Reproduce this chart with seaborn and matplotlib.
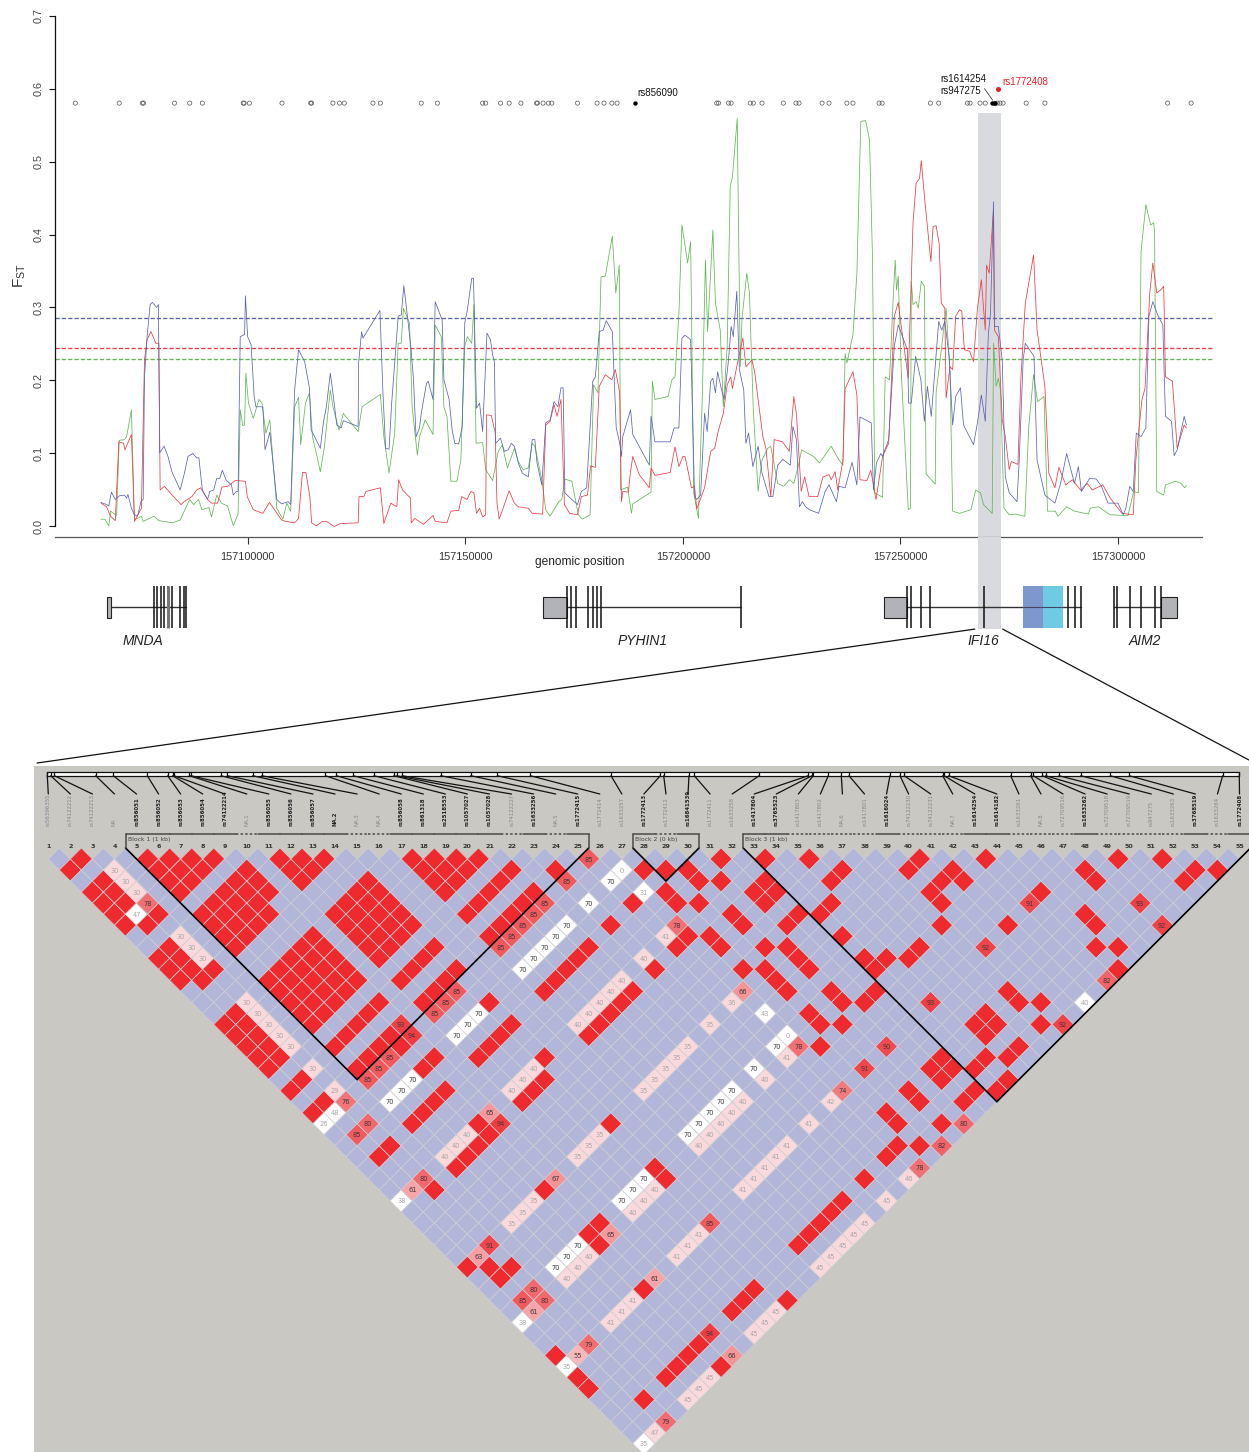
import matplotlib
matplotlib.use("Agg")
import matplotlib.pyplot as plt
from matplotlib.colors import ListedColormap
from matplotlib.patches import ConnectionPatch, Rectangle
import numpy as np
import seaborn as sns

sns.set_theme(style="white")
plt.rcParams["font.family"] = ["Liberation Sans", "DejaVu Sans"]
plt.rcParams["mathtext.fontset"] = "custom"
plt.rcParams["mathtext.rm"] = "Liberation Sans"

# ---- FST traces: positions in kb above 157,000,000 ----
blue_kb = [66.3,67.6,68.1,68.7,69.6,70.5,71.7,72.2,72.5,73.3,74.0,74.7,75.5,76.0,76.3,76.9,77.6,78.1,79.1,79.5,79.8,80.8,81.7,82.6,84.5,85.4,86.3,87.4,88.3,88.8,89.6,90.8,91.3,92.2,92.9,93.6,94.2,95.1,96.3,96.7,97.4,97.8,98.3,99.3,99.5,100,100.8,101.5,101.9,103.5,104,105.1,106.7,107.8,109.3,109.9,110.8,111.7,113.1,114.2,114.6,115.4,116.7,117.4,118.1,119,119.6,120.5,121.5,122,125.4,125.5,126.2,126.5,130.4,131.1,131.7,132.5,133.1,133.8,134.6,135.3,135.9,137.5,138.1,138.7,139.5,139.9,141.1,141.5,142.6,143.1,144.7,145.1,146.3,147,147.6,148.5,149.3,149.9,150.5,151.5,151.9,152.6,153.3,154,155,155.8,156.3,156.7,157,158.1,159,159.9,160.6,161.3,162.2,163.1,164.5,165.4,166,166.5,167.6,168.5,169.5,170.4,171.3,172,172.5,172.9,174.5,175.8,176.7,177.9,179.3,179.9,180.8,181.7,182.4,183.8,184.7,185.5,
           185.9,186.2,188,188.5,192.3,192.7,193.6,197.1,198,199.1,199.8,200.5,201.8,202.7,203.2,204.1,205,205.6,206.4,206.9,207.5,208,208.9,209.5,210.5,211.1,211.6,212.4,213,214,214.5,215.1,216.1,217.3,218.2,219.8,220.7,221.8,223,224.7,225.3,226.1,226.8,227.5,228.2,229.1,231.2,232.7,233.6,235.3,235.9,237.3,238.9,240,240.7,243.3,243.8,244.5,245.5,245.9,247.3,248.6,249.5,251.6,251.9,252.5,253.5,254.7,255.5,256.2,257.1,258.8,259.5,260.2,261.2,262,262.7,263.8,264.5,265.6,266.8,267.7,268.6,269.5,270.2,270.7,271.4,271.6,272.5,273.4,274.1,275,276.8,277.3,278.2,278.7,280.7,281.4,283.2,285.5,286.8,288.2,290,290.9,291.6,293.5,295,296.2,297.7,300,301.2,301.8,302.7,303.5,304.2,305.3,306.4,307.1,308,309.1,310.3,310.9,312.3,312.9,313.6,315.2,315.7]
blue_fst = [.033,.030,.028,.047,.037,.042,.043,.039,.044,.025,.016,.014,.034,.037,.205,.260,.304,.307,.300,.304,.101,.110,.096,.075,.050,.071,.096,.100,.094,.094,.050,.037,.048,.050,.066,.066,.077,.063,.057,.043,.048,.048,.260,.263,.316,.260,.249,.178,.164,.164,.105,.129,.037,.031,.034,.030,.187,.242,.226,.190,.132,.123,.107,.142,.164,.210,.183,.139,.135,.145,.137,.224,.267,.258,.296,.183,.107,.106,.169,.224,.288,.290,.330,.247,.203,.123,.135,.155,.196,.199,.174,.308,.283,.201,.174,.132,.114,.113,.137,.279,.297,.340,.340,.162,.169,.130,.265,.256,.235,.226,.114,.121,.103,.105,.114,.110,.087,.073,.068,.119,.119,.087,.057,.142,.146,.171,.164,.190,.190,.046,.037,.030,.048,.053,.199,.205,.267,.269,.282,.267,.135,.114,
            .096,.123,.160,.126,.084,.151,.116,.116,.135,.135,.258,.262,.256,.041,.037,.043,.155,.130,.199,.203,.183,.212,.187,.174,.228,.274,.260,.322,.215,.187,.114,.128,.082,.110,.073,.041,.041,.084,.092,.084,.137,.119,.027,.034,.027,.023,.018,.048,.057,.034,.055,.053,.088,.057,.150,.142,.050,.087,.100,.096,.119,.247,.276,.242,.169,.169,.233,.201,.144,.192,.151,.281,.269,.281,.233,.139,.178,.190,.139,.126,.112,.142,.180,.144,.263,.292,.445,.274,.274,.228,.068,.046,.034,.091,.228,.251,.233,.091,.043,.032,.059,.100,.059,.082,.048,.066,.065,.055,.032,.032,.016,.025,.055,.048,.128,.123,.135,.288,.308,.290,.276,.151,.144,.097,.105,.151,.139]

red_kb = [66.3,67.6,68.5,69.6,70.4,71.5,71.8,73.3,74,75.6,76.3,76.9,77.8,78.9,79.6,79.9,80.9,82.2,84.7,85.4,87.2,88.3,89.2,90.8,91.7,93.1,94.1,95.4,97.2,99.5,99.9,101.3,103.5,105,107.8,108.7,110.8,111.7,112.6,113.4,114.3,114.7,115.8,117.2,118.1,119.9,121.3,125.4,125.6,126.7,127.2,130.5,131.3,132.9,134.3,134.7,135.6,137.4,137.6,138.4,140.4,142.6,143.1,145.8,146.7,148.5,149.2,150.4,151.3,152,152.6,153.3,154,154.7,154.9,156,156.9,157.3,157.8,158.7,160.1,161.3,162.2,164.5,165.4,167.8,168.5,169.5,170.4,171.1,172,172.8,174,175.8,176.7,178.1,178.8,179.9,180.8,182.2,183.7,184.5,185.5,
          185.9,186.2,187.5,187.9,188.5,190,192.3,192.7,193.6,197.1,198.2,199.1,200,200.5,202,202.7,203.2,205,206.4,207.3,208.2,209.3,210.2,211,211.4,212.7,213.8,214.5,215.9,216.5,217.3,218.4,219.1,220.2,221,222.9,224.5,225.5,226.1,227.2,228,229,231,232.2,233.6,234.1,235,235.6,236.8,237.3,239.1,240,240.7,242.3,243.2,244.4,245.9,247.3,248.6,249.5,250.2,251.8,252.9,253.6,254.4,254.8,255.6,257,257.5,258.2,258.9,259.4,260.2,260.5,261.4,262,262.7,263.6,264.1,264.7,265.9,266.8,267.7,268.6,269.5,269.8,270.4,271.4,271.6,272.5,273.4,274.1,275,275.5,277,277.7,278.7,280.6,281.4,283.2,284.1,285.5,286.4,288,289.5,291.4,292.9,294.1,296.5,298.2,300.9,303.5,304.1,305.5,306.2,307.3,308,308.9,309.8,310.5,310.9,312.5,313.6,315.2,315.7]
red_fst = [.032,.027,.014,.008,.116,.114,.105,.126,.007,.025,.228,.256,.267,.251,.251,.050,.055,.046,.030,.034,.041,.050,.053,.037,.032,.032,.054,.055,.063,.062,.041,.023,.018,.033,.009,.007,.005,.011,.074,.074,.041,.005,.001,.007,.007,.000,.004,.005,.041,.041,.048,.053,.004,.032,.027,.064,.050,.039,.005,.011,.003,.015,.007,.005,.021,.022,.041,.037,.048,.046,.018,.025,.013,.016,.153,.152,.128,.032,.010,.025,.049,.032,.027,.025,.018,.017,.139,.144,.167,.151,.174,.030,.018,.016,.041,.043,.083,.081,.192,.208,.201,.215,.183,
           .034,.048,.047,.071,.096,.071,.053,.080,.070,.074,.109,.082,.096,.096,.053,.055,.024,.053,.103,.107,.132,.155,.194,.205,.189,.228,.258,.219,.228,.212,.174,.123,.107,.041,.119,.116,.103,.178,.155,.048,.068,.041,.041,.068,.071,.064,.075,.050,.091,.189,.212,.180,.064,.063,.077,.037,.096,.114,.288,.307,.274,.203,.416,.470,.477,.501,.447,.363,.411,.412,.388,.306,.299,.176,.219,.215,.288,.297,.295,.242,.240,.226,.299,.338,.269,.358,.347,.436,.269,.260,.146,.123,.078,.089,.085,.205,.306,.372,.269,.192,.073,.053,.081,.057,.064,.050,.059,.050,.057,.039,.018,.016,.091,.174,.189,.320,.361,.320,.324,.329,.205,.199,.107,.139,.135]

green_kb = [66.3,67.2,68.1,68.5,69.9,70.5,71.7,72.2,73.3,74,75.6,76,78.5,79.6,82.8,84.5,86.7,87.6,88.7,89.5,91.1,91.7,92.9,94,95.4,96.7,97.8,98.3,98.9,99.3,99.6,100.2,101.3,102.6,103.3,104.2,105.1,106.7,108.1,109,109.9,110.8,111.7,112.2,113.3,114.2,114.9,115.8,116.7,117.6,119,119.6,121,122,125.4,126.3,130.5,131.3,132.5,133.8,134.6,135.3,135.8,137.2,137.8,139,139.5,140.8,142.6,143.1,144.5,145.1,145.8,146.7,148.1,149,149.9,150.5,151.5,152,152.5,154,154.7,156.3,157.6,158.5,159.7,161.3,162.2,163.3,164.5,165.4,166,167.6,168.5,169.5,171.5,172.2,172.9,174.5,176,176.9,178.7,179.5,180.5,181.2,182.2,183.8,184.6,185.4,
            185.5,185.7,187.3,188.2,188.5,192.7,193,193.6,196.6,197.5,198.2,199.1,199.8,201.1,201.8,202.5,203.6,204.5,205.2,205.7,206.9,207.5,208.6,209.3,210.2,210.9,211.4,212.5,213.2,213.6,214.7,215.3,216.2,217.3,218.2,219.5,220.2,221.8,223.2,224.5,225.5,226.5,227.3,230,231.4,234.1,235.9,236.8,237.3,237.7,239.1,240,240.9,242,242.9,243.6,244.1,245.9,246.5,247.5,248.4,248.8,249.1,249.5,250.2,251.4,251.8,252.3,252.5,252.9,253.6,254.1,254.8,255.5,255.9,258,258.2,259.5,260.5,261.4,262,263.6,266.2,267.3,268.4,269.1,271.1,271.4,272,272.5,273,273.8,275,276.4,278.6,279.5,280.6,281.5,283,283.8,285.6,286.2,288.2,290,293.2,293.6,295.5,298.2,302.3,303.6,304.7,305.3,306.4,307.5,308.2,308.4,308.9,310.5,310.9,313.2,314.5,315.3,315.7]
green_fst = [.010,.010,.001,.021,.015,.118,.119,.123,.160,.009,.014,.007,.014,.008,.005,.009,.037,.030,.037,.023,.026,.013,.043,.032,.028,.001,.017,.160,.138,.139,.210,.169,.148,.174,.169,.128,.146,.025,.010,.032,.021,.164,.177,.112,.169,.183,.123,.100,.075,.107,.187,.164,.132,.155,.130,.164,.181,.123,.073,.128,.251,.251,.299,.279,.164,.098,.123,.146,.126,.276,.260,.164,.151,.062,.062,.091,.247,.260,.251,.304,.114,.115,.078,.063,.103,.112,.080,.107,.089,.078,.080,.114,.110,.064,.023,.014,.034,.037,.065,.062,.016,.010,.016,.194,.183,.342,.343,.398,.320,.358,
             .283,.050,.054,.018,.031,.047,.199,.174,.178,.201,.205,.292,.413,.361,.390,.046,.011,.183,.365,.267,.406,.306,.269,.164,.247,.466,.479,.559,.219,.285,.347,.320,.160,.048,.091,.107,.110,.059,.055,.064,.059,.082,.105,.096,.087,.110,.091,.084,.237,.224,.263,.347,.555,.556,.530,.365,.046,.040,.205,.201,.320,.365,.324,.343,.212,.068,.023,.025,.336,.304,.308,.299,.336,.329,.072,.058,.183,.247,.299,.210,.021,.018,.023,.050,.046,.030,.018,.251,.192,.203,.187,.025,.016,.017,.014,.137,.208,.171,.178,.021,.021,.014,.027,.021,.017,.025,.027,.016,.015,.048,.046,.377,.441,.413,.416,.402,.048,.043,.057,.062,.059,.053,.056]

threshold_blue, threshold_red, threshold_green = 0.286, 0.245, 0.23
snp_open_kb = [60.4,70.5,75.8,76.1,83.2,86.7,89.6,99.0,99.2,100.4,107.9,114.5,114.7,119.6,121.1,122.2,128.8,130.5,139.9,143.6,154.0,154.7,158.1,160.1,162.8,166.4,166.6,167.9,169.1,169.9,175.8,180.3,181.9,183.7,184.9,207.8,208.2,210.5,211.1,215.5,216.2,218.2,223.1,226.0,226.7,232.0,233.6,237.7,239.1,245.1,245.8,256.9,258.8,265.4,266.0,268.3,269.5,272.3,272.9,273.6,278.9,283.2,311.4,316.8]
snp_black_kb = [188.9,271.1,271.5,271.8]
snp_level = 0.58
snp_red_kb, snp_red_fst = [272.4], [0.60]
x_ticks_kb = [100,150,200,250,300]
y_ticks = [0,.1,.2,.3,.4,.5,.6,.7]
region_kb = (267.8, 273.1)

# ---- gene models (kb) ----
genes = ["MNDA","PYHIN1","IFI16","AIM2"]
gene_label_kb = [76,190.8,269,306.2]
gene_span = [(67.7,85.9),(167.9,213.3),(246.2,291.6),(299,313.5)]
gene_utr = [(67.7,68.6),(167.9,173.4),(246.2,251.4),(309.9,313.5)]
gene_exons = [[78.5,79.2,80,80.8,81.8,82.6,84.5,85.4,85.9],
              [173.4,174.4,175.4,178.3,179.3,180.3,181.3,213.3],
              [251.4,252.4,254.8,256.8,269.1,288.6,290.1,291.6],
              [299,299.8,302.8,305.3,308.5,309.9]]
domain_blue, domain_cyan = (278.2,282.7), (282.7,287.3)

# ---- LD map ----
snp_names = ["rs56396355","rs74122212","rs74122213","NA","rs856051","rs856052","rs856053","rs856054","rs74122214","NA.1","rs856055","rs856056","rs856057","NA.2","NA.3","NA.4","rs856058","rs861318","rs2518553","rs1057027","rs1057028","rs74122227","rs1633256","NA.5","rs1772415","rs1772414","rs1633257","rs1772413","rs1772412","rs16841539","rs1772411","rs1633258","rs1417804","rs3765523","rs1417803","rs1417802","NA.6","rs1417801","rs1616024","rs74122230","rs74122231","NA.7","rs1614254","rs1614182","rs1633261","NA.8","rs72709516","rs1633262","rs72709518","rs72709519","rs947275","rs1633263","rs3768519","rs1633264","rs1772408"]
tag_snps = [5,6,7,8,9,11,12,13,14,17,18,19,20,21,23,25,28,30,33,34,39,43,44,48,53,55]
snp_map = [0,3.4,7,48.4,66,100,120.4,125.4,126.7,142,143.7,173.7,180,205.4,214.4,278,289,306,326.7,346.4,349.4,354.7,393.4,423.4,450,483,563.7,613,616.4,641.7,647,712,761,764.7,766,781,794,801.7,842.7,852.7,857,895.4,896.7,901.4,963.4,983.4,986,995,998.4,1011.7,1033.4,1063,1082,1175.4,1192]
blocks = [("Block 1 (1 kb)",5,25),("Block 2 (0 kb)",28,30),("Block 3 (1 kb)",33,55)]

red_triangles = [(5,9),(11,14),(17,21)]
red_rects = [(1,2,5,7),(1,1,8,8),(2,3,9,9),(5,8,11,14),(9,9,11,13),(11,14,17,21),(5,9,17,21),(1,2,11,13),(2,3,14,14),(1,2,17,21),(1,2,23,23),(1,2,25,25),(11,14,23,23),(5,9,23,23),(17,21,23,23),(5,8,25,25),(11,14,25,25),(17,21,25,25),(8,8,26,26),(8,9,28,28),(14,14,28,28),(5,8,30,30),(11,14,30,30),(2,3,30,30),(17,21,30,30),(8,8,33,33),(14,14,33,33),(5,8,34,34),(11,13,34,34),(17,21,34,34),(25,26,34,34)]
red_cells = [(2,3),(1,3),(23,25),(23,30),(25,30),(23,34),(3,34),(27,29),(28,30),(29,31),(29,32),(30,33),(27,31),(27,32),(28,33),(27,35),(27,36),(29,35),(29,36),(31,32),(33,34),(35,36),(36,38),(35,38),(32,35),(31,35),(32,36),(31,36),(34,39),(33,39),(32,38),(31,38),(33,41),(29,38),(30,39),(30,40),(27,38),(28,39),(30,41),(28,40),(28,41),(30,43),(30,44),(31,45),(28,43),(28,44),(29,45),(27,45),(40,41),(43,44),(49,50),(51,52),(39,41),(41,43),(47,49),(52,54),(53,55),(40,43),(41,44),(47,50),(51,54),(39,43),(44,48),(39,44),(45,51),(38,45),(41,48),(45,52),(36,45),(44,53),(45,54),(33,43),(34,44),(35,45),(33,44),(44,55),(32,45),(38,51),(38,52),(39,53),(36,51),(35,51),(36,52),(38,54),(35,52),(36,54),(32,51),(34,53),(35,54),(31,51),(32,52),(33,53),(31,52),(34,55),(29,51),(32,54),(33,55),(29,52),(31,54),(27,51),(27,52),(29,54),(26,53),(25,53),(27,54),(23,53),(21,53),(20,53),(19,53),(18,53),(17,53),(14,55),(11,53),(12,53),(13,53),(5,53),(6,53),(7,53),(8,53),(3,53),(8,55),(8,48),(14,39),(8,39),(8,43),(9,43),(8,44),(14,43),(14,44),(1,39),(2,40),(2,41),(3,41),(1,47),(1,49),(1,50)]
tinted_cells = [(3,8,78),(25,26,85),(23,26,85),(21,26,85),(20,26,85),(19,26,85),(18,26,85),(17,26,85),(13,26,85),(12,26,85),(11,26,85),(9,25,93),(9,26,94),(7,26,85),(6,26,85),(5,26,85),(26,33,78),(26,39,66),(43,48,91),(48,53,93),(48,55,92),(39,48,92),(43,55,82),(34,48,93),(39,55,92),(30,48,90),(28,48,91),(26,48,74),(3,26,76),(3,28,80),(2,28,85),(9,33,65),(9,34,94),(3,33,80),(2,33,61),(9,39,67),(26,44,78),(30,55,80),(28,55,82),(26,55,78),(14,48,85),(3,39,91),(2,39,63),(9,44,65),(9,48,61),(3,43,80),(2,43,85),(3,44,80),(2,44,61),(3,48,79),(2,48,55),(9,53,94),(9,55,66),(3,55,79)]
white_cells = [(2,8,47),(26,28,0),(25,28,70),(23,28,70),(26,30,31),(21,28,70),(20,28,70),(19,28,70),(18,28,70),(17,28,70),(13,28,70),(12,28,70),(11,28,70),(7,28,70),(6,28,70),(5,28,70),(26,41,43),(26,43,0),(25,43,70),(23,43,70),(21,43,70),(20,43,70),(19,43,70),(18,43,70),(17,43,70),(13,43,70),(12,43,70),(11,43,70),(7,43,70),(6,43,70),(5,43,70),(41,55,40),(2,26,48),(1,26,26),(1,33,38),(1,44,38),(1,48,35),(1,55,35)]
pink_cells = [(3,5,30),(3,6,30),(3,7,30),(3,11,30),(3,12,30),(3,13,30),(3,17,30),(3,18,30),(3,19,30),(3,20,30),(3,21,30),(3,23,30),(3,25,29),(25,33,41),(23,33,40),(21,33,40),(20,33,40),(19,33,40),(18,33,40),(17,33,40),(13,33,40),(12,33,40),(11,33,40),(7,33,40),(6,33,40),(5,33,40),(25,39,36),(23,39,35),(21,39,35),(20,39,35),(19,39,35),(18,39,35),(17,39,35),(13,39,35),(12,39,35),(11,39,35),(7,39,35),(6,39,35),(5,39,35),(25,44,41),(23,44,40),(21,44,40),(20,44,40),(19,44,40),(18,44,40),(17,44,40),(13,44,40),(12,44,40),(11,44,40),(7,44,40),(6,44,40),(5,44,40),(25,48,42),(23,48,41),(21,48,41),(20,48,41),(19,48,41),(18,48,41),(17,48,41),(13,48,41),(12,48,41),(11,48,41),(7,48,41),(6,48,41),(5,48,41),(25,55,46),(23,55,45),(21,55,45),(20,55,45),(19,55,45),(18,55,45),(17,55,45),(13,55,45),(12,55,45),(11,55,45),(7,55,45),(6,55,45),(5,55,45),(2,55,47)]

C_BLUE, C_RED, C_GREEN = "#5a64ad", "#ee3a45", "#62b755"
W, H = 1249, 1452
fig = plt.figure(figsize=(W/100, H/100), dpi=100, facecolor="white")
def box(l, t, r, b):
    return [l/W, 1-b/H, (r-l)/W, (b-t)/H]
ORIGIN = 157000000
bp = lambda v: ORIGIN + np.asarray(v)*1000.0

# ---------- FST panel ----------
ax = fig.add_axes(box(55, 15, 1202, 537), facecolor="none")
ax.set_xlim(bp(55.74), bp(319.3))
ax.set_ylim(-0.0144, 0.7007)
ax.fill_between(bp(list(region_kb)), -0.0144, 0.566, color="#d9dadf", lw=0, zorder=0)
for lev, col in [(threshold_blue, C_BLUE), (threshold_red, C_RED), (threshold_green, C_GREEN)]:
    ax.plot(bp([55.74, 322.1]), [lev, lev], color=col, lw=0.95, ls=(0, (3.2, 1.6)), clip_on=False, zorder=2)
for k, v, col in [(green_kb, green_fst, C_GREEN), (red_kb, red_fst, C_RED), (blue_kb, blue_fst, C_BLUE)]:
    sns.lineplot(x=bp(k), y=v, color=col, lw=0.55, estimator=None, sort=False, ax=ax, zorder=3)
sns.scatterplot(x=bp(snp_open_kb), y=[snp_level]*len(snp_open_kb), s=9, marker="o", facecolors="none", edgecolor="#555555", linewidth=0.5, ax=ax, zorder=4)
sns.scatterplot(x=bp(snp_black_kb), y=[snp_level]*len(snp_black_kb), s=10, color="black", linewidth=0, ax=ax, zorder=5)
sns.scatterplot(x=bp(snp_red_kb), y=snp_red_fst, s=13, color="#ee1c25", linewidth=0, ax=ax, zorder=5)
ax.text(bp(189.5), 0.594, "rs856090", fontsize=7, color="#111111", va="center")
ax.text(bp(273.4), 0.6095, "rs1772408", fontsize=7, color="#ee1c25", va="center")
ax.text(bp(259.1), 0.6125, "rs1614254", fontsize=7, color="#111111", va="center")
ax.text(bp(259.1), 0.5965, "rs947275", fontsize=7, color="#111111", va="center")
ax.plot(bp([269.3, 271.2]), [0.600, 0.584], color="#222222", lw=0.5)
for s in ("top", "right"):
    ax.spines[s].set_visible(False)
ax.spines["left"].set_bounds(0, 0.7)
ax.spines["left"].set_color("#111111"); ax.spines["left"].set_linewidth(0.9)
ax.spines["bottom"].set_color("#555555"); ax.spines["bottom"].set_linewidth(0.9)
ax.set_xticks(bp(x_ticks_kb)); ax.set_xticklabels([f"{int(b)}" for b in bp(x_ticks_kb)])
ax.set_yticks(y_ticks); ax.set_yticklabels([f"{t:.1f}" for t in y_ticks], rotation=90, va="center")
ax.tick_params(axis="x", length=5, width=0.8, color="#333333", labelsize=7.8, labelcolor="#333333", pad=5.5, bottom=True)
ax.tick_params(axis="y", length=4.5, width=0.8, color="#111111", labelsize=7.8, labelcolor="#444444", pad=3.5, left=True)
ax.set_xlabel("genomic position", fontsize=8.6, color="#222222")
ax.xaxis.set_label_coords(0.4577, -0.037)
ax.set_ylabel(r"F$_{\mathrm{ST}}$", fontsize=11, color="#333333")
ax.yaxis.set_label_coords(-0.0235, 0.5)

# ---------- gene track ----------
gx = fig.add_axes(box(55, 537, 1202, 660), facecolor="none")
gx.set_xlim(bp(55.74), bp(319.3)); gx.set_ylim(-2.52, 3.33); gx.axis("off")
gx.fill_between(bp(list(region_kb)), -1.05, 3.33, color="#d9dadf", lw=0, zorder=0)
for name, lab, span, utr, exons in zip(genes, gene_label_kb, gene_span, gene_utr, gene_exons):
    gx.plot(bp(span), [0, 0], color="#333333", lw=1.0, zorder=2)
    gx.add_patch(Rectangle((bp(utr[0]), -0.5), (utr[1]-utr[0])*1000, 1.0, fc="#b1b3b8", ec="#222222", lw=0.8, zorder=3))
    gx.vlines(bp(exons), -1, 1, color="#111111", lw=1.1, zorder=4)
    gx.text(bp(lab), -1.62, name, fontsize=10, style="italic", ha="center", va="center", color="#222222")
gx.vlines(bp([81.8]), -1, 1, color="#777777", lw=2.2, zorder=5)
for dom, col in [(domain_blue, "#7e97cc"), (domain_cyan, "#6fcbe3")]:
    gx.add_patch(Rectangle((bp(dom[0]), -1), (dom[1]-dom[0])*1000, 2, fc=col, ec="none", zorder=3))
gx.plot(bp([278.2, 287.3]), [0, 0], color="#444466", lw=0.8, zorder=4)

# ---------- LD triangle ----------
n = len(snp_names)
lx = fig.add_axes(box(34, 766, 1249, 1452), facecolor="#c9c8c3")
lx.set_xlim(0.352, 55.43); lx.set_ylim(54.76, -7.43); lx.axis("off")
lx.add_patch(Rectangle((0.352, -7.43), 55.1, 62.2, fc="#c9c8c3", ec="none", zorder=0))

tint_pal = sns.blend_palette(["#f9d0d3", "#ee2a2f"], 54)
palette = ["#b2b7da", "#ee2a2f", "#ffffff", "#f9d9db"] + [tint_pal[min(v-47, 53)] for v in range(47, 101)]
code = np.zeros((n, n), int)
for a, b in red_triangles:
    for i in range(a, b+1):
        for j in range(i+1, b+1):
            code[i-1, j-1] = 1
for i0, i1, j0, j1 in red_rects:
    code[i0-1:i1, j0-1:j1] = 1
for i, j in red_cells:
    code[i-1, j-1] = 1
for i, j, v in white_cells:
    code[i-1, j-1] = 2
for i, j, v in pink_cells:
    code[i-1, j-1] = 3
for i, j, v in tinted_cells:
    code[i-1, j-1] = 4 + (v-47)
nodes = np.arange(0.5, n+1)
NI, NJ = np.meshgrid(nodes, nodes, indexing="ij")
mask = np.tril(np.ones((n, n), bool))
lx.pcolor((NI+NJ)/2, NJ-NI, np.ma.array(code, mask=mask), cmap=ListedColormap(palette),
          vmin=-0.5, vmax=len(palette)-0.5, edgecolors="#cfcfd4", linewidth=0.5, zorder=1)
for cells in (white_cells, pink_cells, tinted_cells):
    for i, j, v in cells:
        col = "#3a3a3a" if (v >= 50 or v == 70) else "#a9a6a6"
        lx.text((i+j)/2, j-i+0.05, str(v), fontsize=4.8, ha="center", va="center", color=col, family="DejaVu Sans", zorder=3)

# marker numbers and names
for k, nm in enumerate(snp_names, start=1):
    tag = k in tag_snps
    lx.text(k, -0.09, str(k), fontsize=4.6, fontweight="bold", ha="center", va="center", color="#333333", family="DejaVu Sans")
    lx.text(k, -1.99, nm, fontsize=3.9, rotation=90, ha="center", va="bottom", family="DejaVu Sans",
            fontweight="bold" if tag else "normal", color="#222222" if tag else "#888888")
    m = 1 + (snp_map[k-1]-1)/22.06
    lx.plot([m, k], [-6.55, -4.89], color="#111111", lw=0.9, zorder=3)
    lx.plot([m, m], [-6.91, -6.55], color="#111111", lw=0.9, zorder=3)
map_l, map_r = 1+(snp_map[0]-1)/22.06, 1+(snp_map[-1]-1)/22.06
lx.plot([map_l, map_r, map_r, map_l, map_l], [-6.91, -6.91, -6.55, -6.55, -6.91], color="#111111", lw=0.9, zorder=2)
lx.fill_between([map_l, map_r], -6.91, -6.55, color="white", lw=0, zorder=1)

# haplotype blocks
for label, s, e in blocks:
    left, right = s-0.5, e+0.5
    lx.plot([left, (left+right)/2, right], [0, right-left, 0], color="black", lw=1.2, zorder=4, solid_joinstyle="miter")
    lx.plot([left, left], [-1.27, 0], color="#4a4a48", lw=1.1, zorder=4)
    lx.plot([right, right], [-1.27, 0], color="#4a4a48", lw=1.1, zorder=4)
    for k in range(s, e+1):
        style = "-" if k in tag_snps else (0, (1.6, 1.4))
        lx.plot([k-0.5, k+0.5], [-1.27, -1.27], color="#4a4a48", lw=1.1, ls=style, zorder=4)
    lx.text(left+0.1, -0.79, label, fontsize=4.4, color="#444444", ha="left", va="center", family="DejaVu Sans")

# zoom connectors between the gene track and the LD map
for gene_kb, a_end, d_end in [(267.1, 0.49, -7.7), (273.5, 55.43, -7.97)]:
    fig.add_artist(ConnectionPatch((bp(gene_kb), -1.05), (a_end, d_end), coordsA=gx.transData, coordsB=lx.transData,
                                   color="#111111", lw=0.9))

fig.savefig("out.png", dpi=100, facecolor="white")
